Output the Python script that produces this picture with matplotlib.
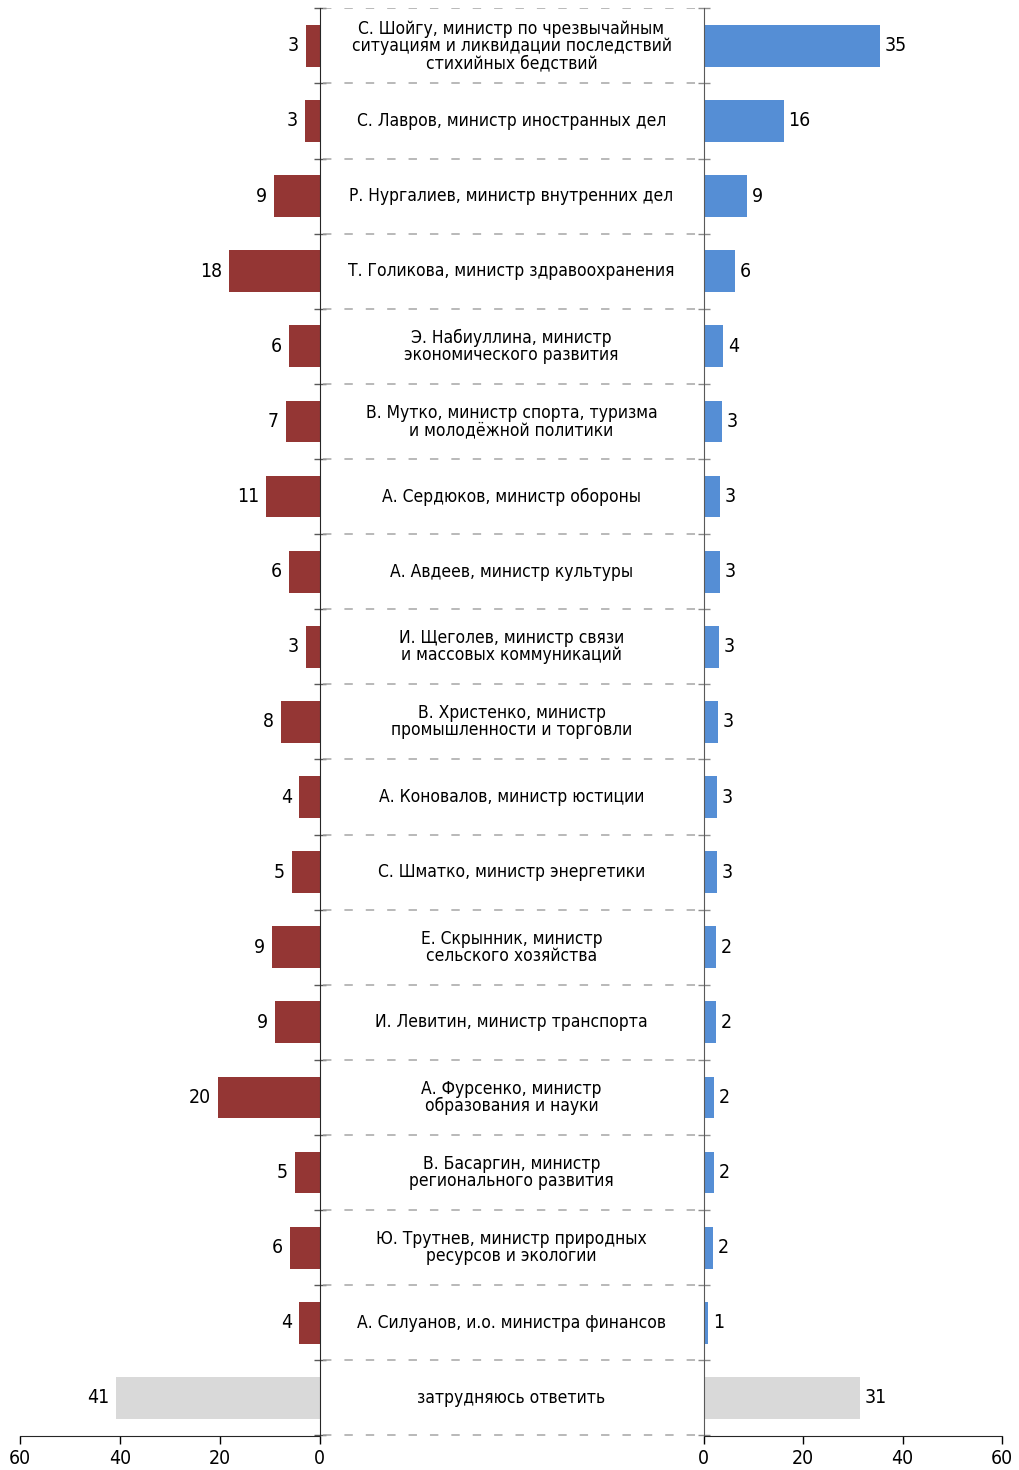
import matplotlib
matplotlib.use('Agg')
import matplotlib.pyplot as plt
from matplotlib import font_manager
import numpy as np

# look for a narrow sans face, otherwise Roboto
narrow = None
for f in font_manager.fontManager.ttflist:
    if f.style == 'normal' and f.weight in (400, 'normal', 'regular') and \
            f.stretch in ('condensed', 'semi-condensed', 'extra-condensed') and \
            'Mono' not in f.name and 'Serif' not in f.name:
        narrow = f
        break

if narrow is not None:
    fam = [narrow.name, 'DejaVu Sans']
    stretch = narrow.stretch
else:
    fam = ['Roboto', 'DejaVu Sans']
    stretch = 'normal'

font = {'family': fam,
        'weight': 'normal',
        'stretch': stretch,
        'size': 14}
matplotlib.rc('font', **font)

names = [
    "С. Шойгу, министр по чрезвычайным\nситуациям и ликвидации последствий\nстихийных бедствий",
    "С. Лавров, министр иностранных дел",
    "Р. Нургалиев, министр внутренних дел",
    "Т. Голикова, министр здравоохранения",
    "Э. Набиуллина, министр\nэкономического развития",
    "В. Мутко, министр спорта, туризма\nи молодёжной политики",
    "А. Сердюков, министр обороны",
    "А. Авдеев, министр культуры",
    "И. Щеголев, министр связи\nи массовых коммуникаций",
    "В. Христенко, министр\nпромышленности и торговли",
    "А. Коновалов, министр юстиции",
    "С. Шматко, министр энергетики",
    "Е. Скрынник, министр\nсельского хозяйства",
    "И. Левитин, министр транспорта",
    "А. Фурсенко, министр\nобразования и науки",
    "В. Басаргин, министр\nрегионального развития",
    "Ю. Трутнев, министр природных\nресурсов и экологии",
    "А. Силуанов, и.о. министра финансов",
    "затрудняюсь ответить",
]
left_vals = [2.7, 2.9, 9.1, 18.1, 6.1, 6.7, 10.7, 6.1, 2.7, 7.7,
             4.1, 5.5, 9.5, 8.9, 20.3, 4.9, 5.9, 4.1, 40.7]
left_labels = [3, 3, 9, 18, 6, 7, 11, 6, 3, 8, 4, 5, 9, 9, 20, 5, 6, 4, 41]
right_vals = [35.5, 16.1, 8.7, 6.3, 3.9, 3.7, 3.3, 3.3, 3.1, 2.9,
              2.7, 2.7, 2.5, 2.5, 2.1, 2.1, 1.9, 0.9, 31.4]
right_labels = [35, 16, 9, 6, 4, 3, 3, 3, 3, 3, 3, 3, 2, 2, 2, 2, 2, 1, 31]
xticks = [0, 20, 40, 60]

red = '#943634'
blue = '#558ed5'
grey = '#d9d9d9'

n = len(names)
y = np.arange(n)
bounds = np.arange(n + 1) - 0.5
W, H = 1019, 1470
bot = 1 - 1435.5 / H
top = 1 - 8.3 / H

fig = plt.figure(figsize=(W / 100, H / 100), dpi=100)

# size the font so the one-line label is as wide as in the original (~310 px)
probe = fig.text(0, 0, names[1], fontsize=14)
wpx = probe.get_window_extent(renderer=fig.canvas.get_renderer()).width
probe.remove()
fs = 14 * 310 / wpx
ls = 19 / (fs * 100 / 72 * 1.17)
nfs = fs * 1.12

ax_l = fig.add_axes([20 / W, bot, 299.5 / W, top - bot])
ax_r = fig.add_axes([703.5 / W, bot, 298.5 / W, top - bot])
ax_c = fig.add_axes([319.5 / W, bot, 384 / W, top - bot])

lcol = [red] * (n - 1) + [grey]
rcol = [blue] * (n - 1) + [grey]
ax_l.barh(y, left_vals, height=0.556, color=lcol)
ax_r.barh(y, right_vals, height=0.556, color=rcol)

for ax in (ax_l, ax_r):
    ax.set_ylim(n - 0.5, -0.5)
    ax.set_xlim(0, 60)
    ax.set_xticks(xticks)
    ax.set_yticks(bounds)
    ax.set_yticklabels([])
    ax.spines['top'].set_visible(False)
    ax.tick_params(axis='x', length=6, width=1, pad=4, labelsize=nfs)
    ax.tick_params(axis='y', direction='inout', length=8, width=1)
    ax.spines['bottom'].set_color('#262626')

ax_l.invert_xaxis()
ax_l.yaxis.tick_right()
ax_l.spines['left'].set_visible(False)
ax_l.spines['right'].set_color('#262626')
ax_l.tick_params(axis='y', color='#595959')
ax_r.spines['right'].set_visible(False)
ax_r.spines['left'].set_color('#595959')
ax_r.tick_params(axis='y', color='#8c8c8c')

for i in range(n):
    ax_l.annotate(str(left_labels[i]), (left_vals[i], y[i]), xytext=(-7, 0),
                  textcoords='offset pixels', ha='right', va='center', fontsize=nfs)
    ax_r.annotate(str(right_labels[i]), (right_vals[i], y[i]), xytext=(5, 0),
                  textcoords='offset pixels', ha='left', va='center', fontsize=nfs)

ax_c.set_xlim(0, 1)
ax_c.set_ylim(n - 0.5, -0.5)
ax_c.axis('off')
ax_c.hlines(bounds, 0.01, 0.99, colors='#a6a6a6', linewidth=1.1,
            linestyles=(0, (5.5, 8.5)))
for i in range(n):
    ax_c.text(0.5, y[i], names[i], ha='center', va='center',
              fontsize=fs, linespacing=ls)

plt.savefig('out.png', dpi=100)
